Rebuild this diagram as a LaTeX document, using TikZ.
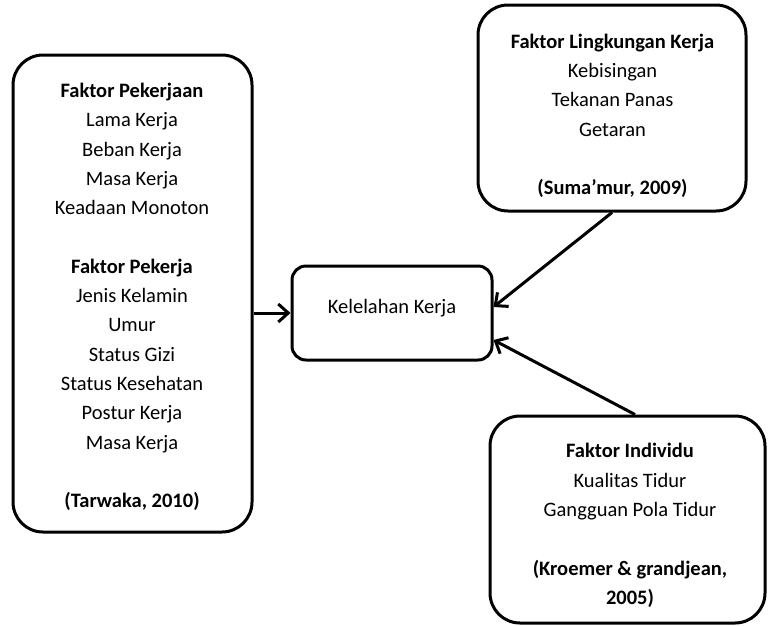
\documentclass[tikz,border=0pt]{standalone}
\usepackage{fontspec}
\setmainfont{Carlito}
\usetikzlibrary{arrows.meta}
\begin{document}
\begin{tikzpicture}[x=1pt,y=-1pt,
  box/.style={draw, line width=3pt, rounded corners=30pt, inner sep=0pt},
  smallbox/.style={draw, line width=3pt, rounded corners=14pt, inner sep=0pt},
  txt/.style={align=center, inner sep=0pt, font=\fontsize{20.5}{29.3}\selectfont},
  conn/.style={line width=3pt, -{Straight Barb[length=10pt,width=18pt]}}]
\useasboundingbox (0,0) rectangle (768,625);
% boxes
\node[box, minimum width=239pt, minimum height=477pt] (pekerjaan) at (132.5,293.5) {};
\node[box, minimum width=268pt, minimum height=206pt] (lingkungan) at (612,108) {};
\node[box, minimum width=275pt, minimum height=207pt] (individu) at (627.5,519.5) {};
\node[smallbox, minimum width=200pt, minimum height=94pt] (kelelahan) at (392,313) {};
% texts
\node[txt] (tpekerjaan) at (132,297) {\textbf{Faktor Pekerjaan}\\Lama Kerja\\Beban Kerja\\Masa Kerja\\Keadaan Monoton\\[29.3pt]\textbf{Faktor Pekerja}\\Jenis Kelamin\\Umur\\Status Gizi\\Status Kesehatan\\Postur Kerja\\Masa Kerja\\[29.3pt]\textbf{(Tarwaka, 2010)}};
\node[txt] (tlingkungan) at (612.5,116) {\textbf{Faktor Lingkungan Kerja}\\Kebisingan\\Tekanan Panas\\Getaran\\[29.3pt]\textbf{(Suma’mur, 2009)}};
\node[txt] (tindividu) at (630,525.5) {\textbf{Faktor Individu}\\Kualitas Tidur\\Gangguan Pola Tidur\\[29.3pt]\textbf{(Kroemer \& grandjean,}\\\textbf{2005)}};
\node[txt] (tkelelahan) at (392,308) {Kelelahan Kerja};
% connectors
\draw[conn] (pekerjaan.east |- kelelahan.west) -- (kelelahan.west);
\draw[conn] (lingkungan.south) -- ([yshift=6pt]kelelahan.east);
\draw[conn] ([xshift=7.5pt]individu.north) -- ([yshift=-27pt]kelelahan.east);
\end{tikzpicture}
\end{document}
